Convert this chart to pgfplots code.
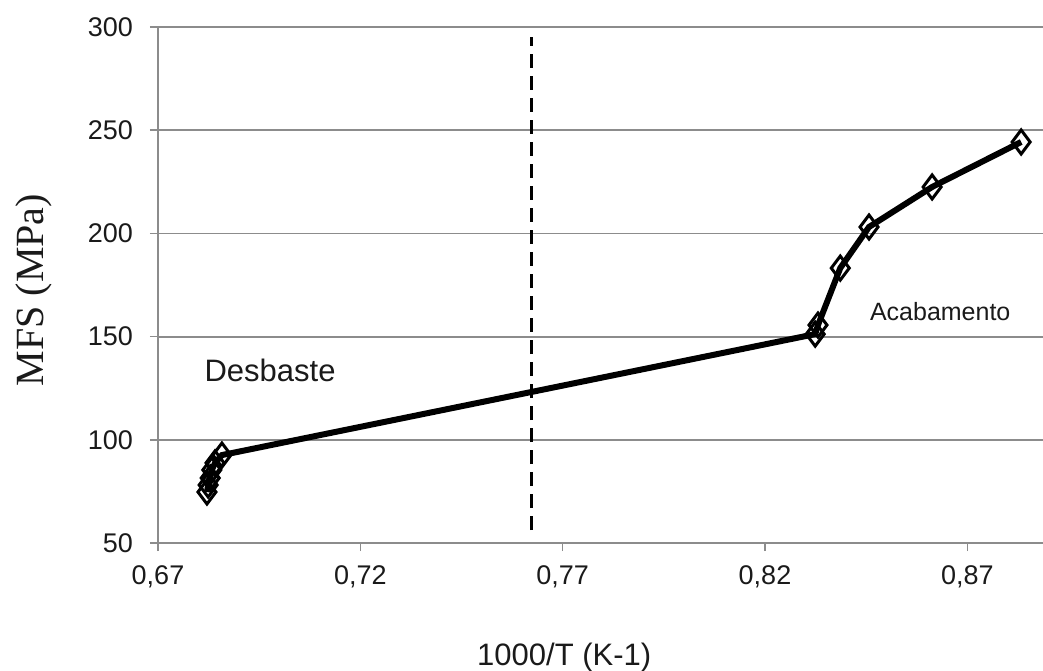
\documentclass[border=0pt]{standalone}
\usepackage{fontspec}
\setmainfont{Liberation Sans}
\newfontfamily\seriffont{Liberation Serif}
\usepackage{pgfplots}
\pgfplotsset{compat=1.18}
\definecolor{gridgray}{HTML}{8C8C8C}
\definecolor{txt}{HTML}{1A1A1A}
\begin{document}
\begin{tikzpicture}
\begin{axis}[
  name=ax,
  scale only axis,
  width=442.5pt, height=258pt,
  xmin=0.67, xmax=0.8887,
  ymin=50, ymax=300,
  xtick={0.67,0.72,0.77,0.82,0.87},
  ytick={50,100,150,200,250,300},
  axis x line*=bottom, axis y line*=left,
  axis line style={gridgray, line width=0.9pt, -},
  ymajorgrids,
  grid style={gridgray, line width=0.9pt},
  tick align=outside,
  major tick length=4pt,
  tick style={gridgray, line width=0.8pt},
  /pgf/number format/assume math mode=true,
  x tick label style={/pgf/number format/use comma, /pgf/number format/fixed, /pgf/number format/fixed zerofill, /pgf/number format/precision=2, yshift=-4pt},
  ticklabel style={font=\fontsize{13.5}{15}\selectfont, text=txt},
  yticklabel style={xshift=-5pt},
  xlabel={1000/T (K-1)},
  xlabel style={font=\fontsize{15.5}{18}\selectfont, text=txt, at={(rel axis cs:0.459,0)}, anchor=center, yshift=-57pt},
  ylabel={\seriffont MFS (MPa)},
  ylabel style={font=\fontsize{20}{23}\selectfont, text=txt, at={(rel axis cs:0,0.49)}, anchor=center, yshift=62pt},
  clip=false,
]
\addplot[black, line width=1.5pt, dash pattern=on 7pt off 4pt] coordinates {(0.7624,56.3) (0.7624,295)};
\addplot[black, line width=3pt, mark=diamond, mark size=6pt,
  mark options={solid, fill=white, draw=black, line width=1.5pt}]
  coordinates {
  (0.6821,74.7) (0.6824,78.1) (0.6829,81.5) (0.6833,85.4) (0.6841,88.8) (0.6858,92.6)
  (0.8324,151.2) (0.8331,155.6) (0.8386,183.2) (0.8457,203.1) (0.8613,222.5) (0.8833,244.3)
  };
\node[font=\fontsize{15.5}{18}\selectfont, text=txt] at (axis cs:0.6977,133.8) {Desbaste};
\node[font=\fontsize{12.5}{15}\selectfont, text=txt] at (axis cs:0.8633,161.9) {Acabamento};
\coordinate (ll) at (rel axis cs:0,0);
\coordinate (ur) at (rel axis cs:1,1);
\end{axis}
\pgfresetboundingbox
\path ([shift={(-79pt,-63.5pt)}]ll) rectangle ([shift={(0pt,13.5pt)}]ur);
\end{tikzpicture}
\end{document}
